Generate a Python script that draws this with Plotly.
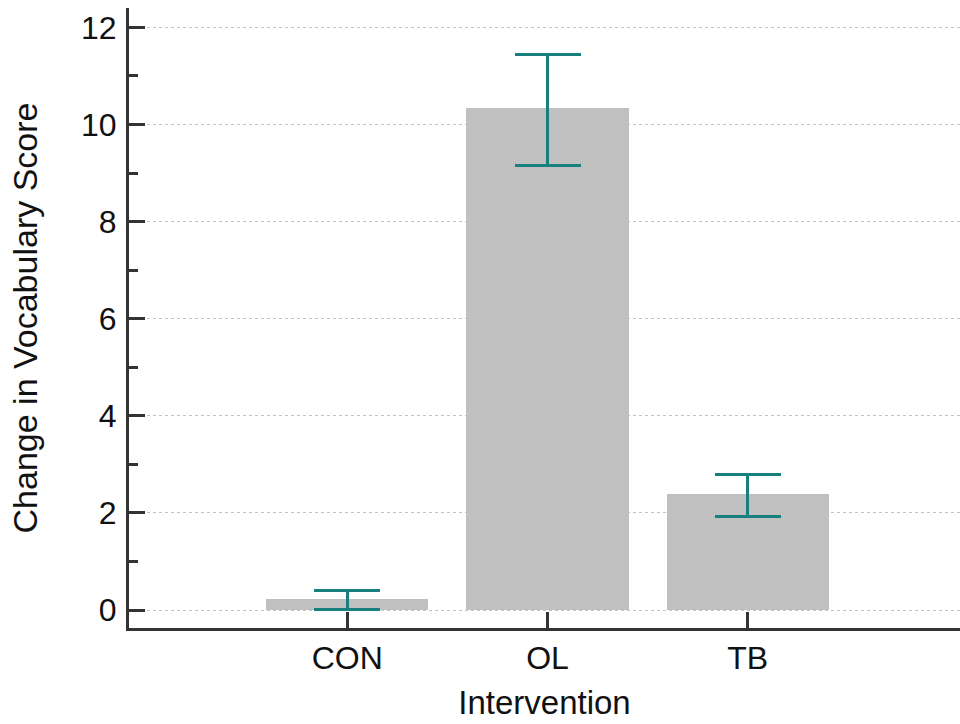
import plotly.graph_objects as go

categories = ["CON", "OL", "TB"]
means = [0.23, 10.34, 2.39]
err_plus = [0.18, 1.11, 0.40]
err_minus = [0.21, 1.18, 0.47]
y_ticks = [0, 2, 4, 6, 8, 10, 12]

x_pos = list(range(len(categories)))
font = "Liberation Sans, Arial, sans-serif"

fig = go.Figure()
fig.add_trace(go.Bar(
    x=x_pos, y=means, width=0.81,
    marker=dict(color="#c0c0c0", line=dict(width=0)),
    error_y=dict(type="data", symmetric=False, array=err_plus, arrayminus=err_minus,
                 color="#17807e", thickness=3, width=33),
    showlegend=False,
))

fig.update_layout(
    width=960, height=724,
    margin=dict(l=129, r=0, t=8, b=96),
    paper_bgcolor="white", plot_bgcolor="white",
    font=dict(family=font, color="#111", size=32),
    bargap=0,
)
fig.update_xaxes(
    range=[-1.09, 3.06], tickvals=x_pos, ticktext=categories,
    showline=True, linecolor="#333", linewidth=3,
    ticks="inside", ticklen=16, tickwidth=3, tickcolor="#333",
    showgrid=False, zeroline=False,
    tickfont=dict(size=32),
    title=dict(text="Intervention", font=dict(size=33), standoff=16),
)
fig.update_yaxes(
    range=[-0.37, 12.4], tickvals=y_ticks,
    showline=True, linecolor="#333", linewidth=3,
    ticks="inside", ticklen=16, tickwidth=3, tickcolor="#333",
    ticklabelstandoff=3,
    minor=dict(ticks="inside", ticklen=9, tickwidth=3, tickcolor="#333", dtick=1, showgrid=False),
    showgrid=True, gridcolor="#c4c4c4", gridwidth=1, griddash="dot",
    zeroline=False,
    tickfont=dict(size=32),
    title=dict(text="Change in Vocabulary Score", font=dict(size=34), standoff=34),
)

fig.write_html("out.html")
